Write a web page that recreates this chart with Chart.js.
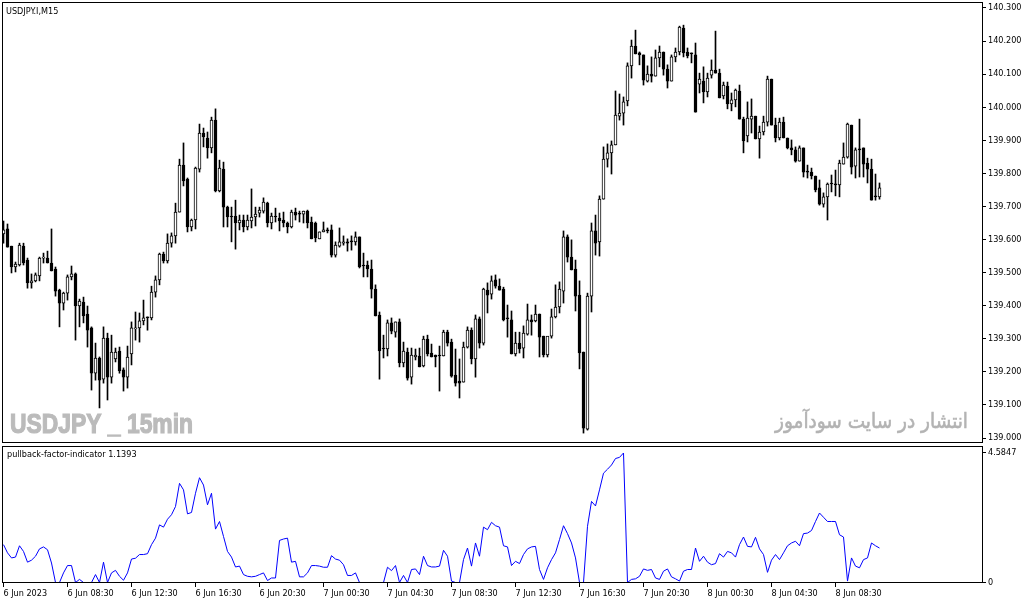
<!DOCTYPE html>
<html>
<head>
<meta charset="utf-8">
<script src="https://cdn.jsdelivr.net/npm/chart.js@4.4.0/dist/chart.umd.min.js"></script>
<style>
  body { margin: 0; background: #fff; }
  #wrap { position: relative; width: 1029px; height: 604px; }
  #price { position: absolute; left: 0; top: 0; }
  #pullback { position: absolute; left: 0; top: 445px; }
</style>
</head>
<body>
<div id="wrap">
  <canvas id="price" width="1029" height="445"></canvas>
  <canvas id="pullback" width="1029" height="159"></canvas>
</div>
<script>
// USDJPY M15 candles, 6 Jun 04:30 .. 8 Jun 11:15
const opens = [139.617,139.632,139.580,139.517,139.523,139.580,139.538,139.469,139.475,139.490,
  139.544,139.544,139.529,139.511,139.447,139.408,139.438,139.487,139.496,139.399,
  139.411,139.375,139.333,139.196,139.242,139.178,139.302,139.184,139.239,139.263,
  139.206,139.184,139.254,139.330,139.333,139.354,139.363,139.363,139.441,139.478,
  139.556,139.535,139.589,139.611,139.683,139.825,139.783,139.638,139.659,139.813,
  139.922,139.907,139.877,139.961,139.747,139.813,139.698,139.668,139.671,139.650,
  139.659,139.638,139.656,139.668,139.680,139.686,139.710,139.650,139.671,139.665,
  139.659,139.650,139.638,139.683,139.680,139.677,139.686,139.653,139.650,139.602,
  139.623,139.626,139.629,139.553,139.580,139.589,139.593,139.593,139.593,139.608,
  139.520,139.523,139.511,139.450,139.372,139.269,139.269,139.348,139.320,139.351,
  139.227,139.260,139.184,139.245,139.248,139.218,139.299,139.257,139.251,139.248,
  139.248,139.320,139.290,139.190,139.172,139.169,139.275,139.326,139.239,139.360,
  139.287,139.447,139.435,139.478,139.459,139.450,139.360,139.357,139.254,139.287,
  139.272,139.314,139.357,139.354,139.375,139.308,139.251,139.308,139.366,139.396,
  139.444,139.608,139.547,139.511,139.432,139.260,139.027,139.429,139.626,139.593,
  139.722,139.843,139.862,139.886,139.973,139.982,140.019,140.125,140.185,140.164,
  140.158,140.079,140.100,140.094,140.149,140.167,140.115,140.079,140.152,140.167,
  140.239,140.167,140.161,140.158,140.070,140.079,140.046,140.097,140.112,140.103,
  140.034,140.064,140.010,140.022,140.049,139.964,139.913,139.964,139.973,139.904,
  139.925,139.955,140.085,139.946,139.907,139.955,139.907,139.877,139.871,139.837,
  139.877,139.804,139.804,139.792,139.756,139.707,139.729,139.768,139.768,139.765,
  139.828,139.849,139.946,139.822,139.871,139.877,139.831,139.813,139.729,139.729];

const highs = [139.656,139.647,139.580,139.532,139.589,139.589,139.544,139.496,139.499,139.547,
  139.559,139.565,139.632,139.517,139.450,139.441,139.493,139.520,139.499,139.420,
  139.426,139.399,139.336,139.287,139.245,139.336,139.317,139.311,139.272,139.275,
  139.212,139.278,139.351,139.381,139.378,139.417,139.366,139.459,139.490,139.559,
  139.562,139.617,139.620,139.710,139.843,139.892,139.786,139.662,139.819,139.949,
  139.937,139.925,139.970,139.995,139.840,139.834,139.701,139.698,139.719,139.674,
  139.674,139.674,139.753,139.698,139.698,139.726,139.713,139.680,139.695,139.680,
  139.683,139.653,139.689,139.695,139.686,139.686,139.689,139.668,139.653,139.623,
  139.653,139.635,139.644,139.593,139.635,139.611,139.602,139.611,139.623,139.608,
  139.559,139.535,139.538,139.463,139.381,139.311,139.357,139.363,139.351,139.360,
  139.290,139.272,139.272,139.269,139.272,139.308,139.311,139.284,139.251,139.278,
  139.326,139.326,139.299,139.269,139.239,139.290,139.336,139.333,139.372,139.366,
  139.453,139.469,139.490,139.493,139.481,139.456,139.402,139.384,139.320,139.320,
  139.339,139.405,139.372,139.402,139.375,139.308,139.281,139.390,139.463,139.472,
  139.626,139.614,139.599,139.538,139.475,139.260,139.438,139.650,139.674,139.732,
  139.880,139.889,139.898,140.049,140.040,140.031,140.134,140.203,140.233,140.167,
  140.158,140.125,140.152,140.173,140.185,140.167,140.128,140.158,140.179,140.245,
  140.248,140.179,140.164,140.194,140.103,140.122,140.103,140.143,140.230,140.115,
  140.076,140.076,140.043,140.055,140.067,139.970,140.016,140.025,139.973,139.943,
  139.973,140.094,140.085,139.967,139.967,139.970,139.907,139.901,139.880,139.883,
  139.877,139.825,139.816,139.792,139.780,139.741,139.771,139.795,139.810,139.840,
  139.892,139.952,139.946,139.877,139.964,139.877,139.846,139.843,139.798,139.771];

const lows = [139.589,139.577,139.499,139.502,139.520,139.523,139.453,139.453,139.472,139.475,
  139.529,139.529,139.505,139.429,139.336,139.387,139.417,139.478,139.296,139.336,
  139.348,139.275,139.145,139.175,139.091,139.166,139.115,139.166,139.230,139.196,
  139.142,139.151,139.221,139.296,139.290,139.342,139.326,139.357,139.426,139.463,
  139.529,139.529,139.577,139.589,139.683,139.762,139.623,139.626,139.632,139.804,
  139.880,139.846,139.862,139.744,139.744,139.638,139.638,139.593,139.571,139.629,
  139.623,139.629,139.635,139.641,139.668,139.680,139.638,139.632,139.653,139.626,
  139.638,139.620,139.635,139.659,139.653,139.650,139.635,139.602,139.593,139.602,
  139.623,139.620,139.547,139.547,139.577,139.583,139.565,139.568,139.583,139.514,
  139.487,139.487,139.423,139.369,139.178,139.242,139.248,139.315,139.305,139.215,
  139.215,139.175,139.163,139.236,139.215,139.215,139.248,139.245,139.215,139.142,
  139.248,139.278,139.184,139.157,139.121,139.169,139.272,139.224,139.184,139.272,
  139.281,139.378,139.420,139.453,139.447,139.354,139.305,139.254,139.248,139.257,
  139.242,139.311,139.311,139.351,139.245,139.245,139.245,139.302,139.363,139.378,
  139.408,139.532,139.508,139.384,139.209,139.015,139.024,139.381,139.553,139.550,
  139.722,139.819,139.798,139.886,139.961,139.946,140.004,140.088,140.161,140.128,
  140.067,140.076,140.076,140.094,140.122,140.097,140.058,140.079,140.137,140.158,
  140.152,140.149,140.134,139.985,140.043,140.013,140.031,140.088,140.103,140.028,
  140.025,139.995,139.989,140.001,139.964,139.862,139.895,139.922,139.904,139.846,
  139.916,139.943,139.946,139.895,139.901,139.907,139.874,139.856,139.834,139.837,
  139.789,139.786,139.783,139.744,139.704,139.698,139.659,139.744,139.732,139.729,
  139.828,139.846,139.798,139.786,139.789,139.789,139.771,139.719,139.719,139.722];

const closes = [139.629,139.577,139.517,139.526,139.583,139.529,139.469,139.475,139.493,139.544,
  139.547,139.529,139.505,139.444,139.408,139.438,139.487,139.496,139.399,139.414,
  139.369,139.326,139.196,139.242,139.175,139.302,139.184,139.260,139.260,139.203,
  139.184,139.245,139.333,139.333,139.354,139.363,139.363,139.441,139.478,139.556,
  139.535,139.589,139.611,139.683,139.825,139.777,139.638,139.659,139.816,139.922,
  139.910,139.877,139.961,139.747,139.816,139.698,139.668,139.668,139.650,139.659,
  139.638,139.659,139.668,139.677,139.689,139.713,139.650,139.671,139.668,139.656,
  139.650,139.638,139.683,139.674,139.677,139.686,139.650,139.602,139.605,139.623,
  139.629,139.626,139.553,139.583,139.593,139.593,139.589,139.593,139.608,139.517,
  139.520,139.511,139.450,139.369,139.263,139.269,139.348,139.323,139.351,139.227,
  139.263,139.181,139.251,139.251,139.215,139.299,139.254,139.245,139.245,139.248,
  139.320,139.287,139.187,139.166,139.166,139.275,139.326,139.239,139.360,139.287,
  139.450,139.432,139.475,139.459,139.447,139.357,139.360,139.254,139.287,139.269,
  139.317,139.357,139.351,139.375,139.305,139.251,139.308,139.366,139.396,139.450,
  139.608,139.547,139.508,139.429,139.257,139.030,139.429,139.626,139.589,139.722,
  139.843,139.862,139.886,139.976,139.982,140.016,140.125,140.185,140.161,140.158,
  140.082,140.100,140.094,140.149,140.167,140.115,140.079,140.152,140.167,140.242,
  140.164,140.155,140.161,139.985,140.085,140.046,140.088,140.112,140.103,140.028,
  140.067,140.010,140.022,140.052,139.964,139.898,139.967,139.973,139.904,139.925,
  139.955,140.085,139.946,139.907,139.955,139.907,139.877,139.871,139.837,139.877,
  139.804,139.804,139.792,139.750,139.707,139.729,139.768,139.768,139.765,139.831,
  139.849,139.949,139.819,139.871,139.871,139.828,139.813,139.719,139.729,139.756];

// pullback-factor-indicator values, one per candle
const pullback = [1.34,1.05,0.87,0.90,1.30,1.10,0.72,0.79,0.93,1.19,
  1.26,1.16,0.69,0,0,0.34,0.60,0.60,0,0.11,
  0,0,0,0.28,0,0.72,0,0.34,0.43,0.22,
  0.08,0.34,0.83,0.86,0.99,0.99,1.02,1.34,1.57,2.04,
  1.96,2.24,2.40,2.69,3.51,3.28,2.43,2.48,3.16,3.71,
  3.45,2.75,3.16,1.89,2.16,1.63,1.10,0.90,0.55,0.58,
  0.28,0.22,0.20,0.22,0.28,0.34,0.07,0.16,0.16,1.49,
  1.54,1.57,0.72,0.75,0.20,0.20,0.34,0.60,0.60,0.58,
  0.54,0.54,0.95,0.83,0.79,0.63,0.25,0.25,0.34,0,
  0,0,0,0,0,0,0.54,0.42,0.60,0,
  0.25,0,0.46,0.48,0.28,0.93,0.60,0.55,0.55,0.58,
  1.14,0.93,0.05,0,0,0.81,1.22,0.58,1.40,0.93,
  1.96,1.87,2.13,2.01,1.96,1.30,1.26,0.60,0.75,0.67,
  0.99,1.19,1.26,1.28,0.46,0.11,0.52,0.81,1.05,1.52,
  2.01,1.73,1.40,0.87,0,0,1.99,2.87,2.71,3.28,
  3.87,4.01,4.16,4.39,4.43,4.5847,0,0.11,0.13,0.22,
  0.48,0.43,0.46,0.16,0.11,0.40,0.48,0.20,0.13,0.05,
  0.40,0.46,0.46,1.22,0.75,0.93,0.72,0.63,0.67,1.02,
  0.90,1.10,1.05,0.90,1.34,1.61,1.28,1.26,1.60,1.19,
  0.99,0.36,0.79,0.99,0.81,1.05,1.30,1.40,1.46,1.30,
  1.73,1.75,1.84,2.16,2.46,2.31,2.16,2.16,2.16,1.69,
  1.61,0.05,0.87,0.58,0.52,0.81,0.87,1.40,1.30,1.22];

const priceTicks = [139.0,139.1,139.2,139.3,139.4,139.5,139.6,139.7,139.8,139.9,140.0,140.1,140.2,140.3];
const pullbackTicks = [0, 4.5847];
const timeTickIndex = [0,16,32,48,64,80,96,112,128,144,160,176,192,208];
const timeTickLabels = ['6 Jun 2023','6 Jun 08:30','6 Jun 12:30','6 Jun 16:30','6 Jun 20:30',
  '7 Jun 00:30','7 Jun 04:30','7 Jun 08:30','7 Jun 12:30','7 Jun 16:30','7 Jun 20:30',
  '8 Jun 00:30','8 Jun 04:30','8 Jun 08:30'];

const axisFont = { family: '"DejaVu Sans Condensed", "DejaVu Sans", sans-serif', size: 9 };
const xMin = -0.375, xMax = 244.875;

// no extra room for the end labels: the panels fill the window
const noPad = s => { s.paddingTop = 0; s.paddingBottom = 0; s.paddingLeft = 0; s.paddingRight = 0; };

// black frame round each panel
const frame = {
  id: 'frame',
  afterDraw(chart) {
    const a = chart.chartArea, ctx = chart.ctx;
    ctx.save();
    ctx.strokeStyle = '#000';
    ctx.lineWidth = 1;
    ctx.strokeRect(a.left + 0.5, a.top + 0.5, a.right - a.left - 1, a.bottom - a.top - 1);
    ctx.restore();
  }
};

function fitText(ctx, text, x, y, width, stroke) {
  const w = ctx.measureText(text).width;
  ctx.save();
  ctx.translate(x, y);
  ctx.scale(width / w, 1);
  ctx.fillText(text, 0, 0);
  if (stroke) ctx.strokeText(text, 0, 0);
  ctx.restore();
}

const priceTexts = {
  id: 'priceTexts',
  beforeDatasetsDraw(chart) {
    const ctx = chart.ctx;
    ctx.save();
    ctx.textBaseline = 'alphabetic';
    ctx.textAlign = 'left';
    ctx.fillStyle = '#bbbbbb';
    ctx.strokeStyle = '#bbbbbb';
    ctx.lineWidth = 1.2;
    ctx.font = 'bold 27px "Liberation Sans Narrow", "Liberation Sans", sans-serif';
    fitText(ctx, 'USDJPY _ 15min', 10, 433, 183, true);
    ctx.fillStyle = '#b3b3b3';
    ctx.strokeStyle = '#b3b3b3';
    ctx.lineWidth = 0.6;
    ctx.font = '21px "DejaVu Sans", sans-serif';
    fitText(ctx, 'انتشار در سایت سودآموز', 775, 428, 193, true);
    ctx.restore();
  },
  afterDraw(chart) {
    const ctx = chart.ctx;
    ctx.save();
    ctx.fillStyle = '#000';
    ctx.font = '9px ' + axisFont.family;
    ctx.textBaseline = 'middle';
    ctx.fillText('USDJPY.I,M15', 6, 12);
    ctx.restore();
  }
};

const pullbackTexts = {
  id: 'pullbackTexts',
  afterDraw(chart) {
    const ctx = chart.ctx;
    ctx.save();
    ctx.fillStyle = '#000';
    ctx.font = '9px ' + axisFont.family;
    ctx.textBaseline = 'middle';
    ctx.fillText('pullback-factor-indicator 1.1393', 7, 10);
    ctx.restore();
  }
};

const bodies = opens.map((o, i) => ({ x: i, y: [o, closes[i]] }));
const wicks = lows.map((l, i) => ({ x: i, y: [l, highs[i]] }));

new Chart(document.getElementById('price'), {
  type: 'bar',
  data: {
    datasets: [
      {
        data: bodies,
        grouped: false,
        barThickness: 3,
        minBarLength: 1,
        borderWidth: 1,
        borderColor: '#000',
        borderSkipped: false,
        backgroundColor: ctx => closes[ctx.dataIndex] > opens[ctx.dataIndex] ? '#fff' : '#000',
        order: 0
      },
      {
        data: wicks,
        grouped: false,
        barThickness: 1,
        borderWidth: 0,
        backgroundColor: '#000',
        order: 1
      }
    ]
  },
  options: {
    responsive: false,
    animation: false,
    events: [],
    layout: { padding: { left: 2, top: 2, bottom: 2, right: 0 } },
    plugins: { legend: { display: false }, tooltip: { enabled: false } },
    scales: {
      x: { type: 'linear', min: xMin, max: xMax, offset: false, grid: { offset: false }, display: false },
      y: {
        position: 'right',
        min: 138.985,
        max: 140.318,
        afterFit: s => { s.width = 46; noPad(s); },
        afterBuildTicks: s => { s.ticks = priceTicks.map(v => ({ value: v })); },
        ticks: { callback: v => v.toFixed(3), color: '#000', font: axisFont, padding: 2 },
        grid: { drawOnChartArea: false, tickLength: 3, color: '#000' },
        border: { display: false }
      }
    }
  },
  plugins: [priceTexts, frame]
});

new Chart(document.getElementById('pullback'), {
  type: 'line',
  data: {
    datasets: [{
      data: pullback.map((v, i) => ({ x: i, y: v })),
      borderColor: '#0000ff',
      borderWidth: 1,
      pointRadius: 0,
      tension: 0
    }]
  },
  options: {
    responsive: false,
    animation: false,
    events: [],
    layout: { padding: { left: 2, top: 1, bottom: 0, right: 0 } },
    plugins: { legend: { display: false }, tooltip: { enabled: false } },
    scales: {
      x: {
        type: 'linear',
        min: xMin,
        max: xMax,
        offset: false,
        position: 'bottom',
        afterFit: s => { s.height = 21; noPad(s); },
        afterBuildTicks: s => { s.ticks = timeTickIndex.map(v => ({ value: v })); },
        ticks: {
          callback: (v, idx) => timeTickLabels[idx],
          align: 'start',
          maxRotation: 0,
          autoSkip: false,
          color: '#000',
          font: axisFont,
          padding: 1
        },
        grid: { drawOnChartArea: false, tickLength: 4, color: '#000' },
        border: { display: false }
      },
      y: {
        position: 'right',
        min: -0.0177,
        max: 4.8325,
        afterFit: s => { s.width = 46; noPad(s); },
        afterBuildTicks: s => { s.ticks = pullbackTicks.map(v => ({ value: v })); },
        ticks: { callback: v => v === 0 ? '0' : v.toFixed(4), color: '#000', font: axisFont, padding: 2 },
        grid: { drawOnChartArea: false, tickLength: 3, color: '#000' },
        border: { display: false }
      }
    }
  },
  plugins: [pullbackTexts, frame]
});
</script>
</body>
</html>
